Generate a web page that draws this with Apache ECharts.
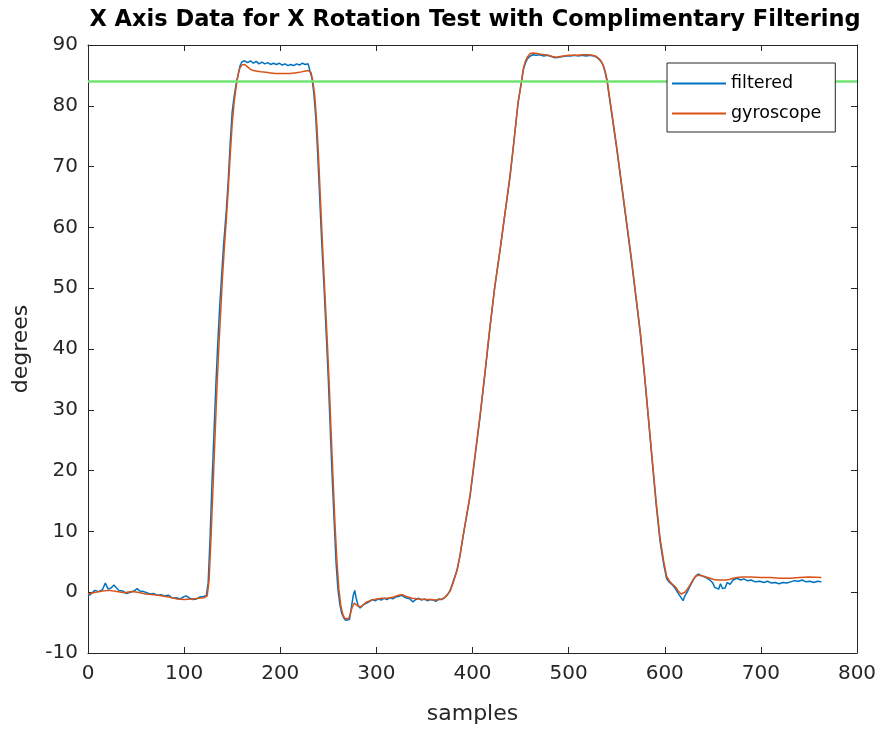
<!DOCTYPE html>
<html>
<head>
<meta charset="utf-8">
<script src="https://cdn.jsdelivr.net/npm/echarts@6/dist/echarts.min.js"></script>
<style>html,body{margin:0;padding:0;background:#fff}#c{width:884px;height:731px}</style>
</head>
<body>
<div id="c"></div>
<script>
var xTicks = [0, 100, 200, 300, 400, 500, 600, 700, 800];
var yTicks = [-10, 0, 10, 20, 30, 40, 50, 60, 70, 80, 90];
var thresholdY = 84;

var filteredX = [0,3,7,11,15,18,21,24,27,29,32,36,40,44,48,51,54,58,61,65,68,72,76,80,84,88,92,96,99,102,106,109,113,116,120,123,
125,127,129,131,133,135,137,139,141,144,146,148,150,152,154,156,158,160,163,
166,169,172,175,178,181,184,187,190,193,196,199,202,205,208,211,214,217,220,223,226,229,231,
233,235,237,239,241,243,245.6,248,250,252,254,256,258,260,262,264,266,268,270,272,274,276,277.5,279,281,283,285,287,290,293,296,299,302,305,308,311,314,317,320,323,326,329,332,335,338,341,344,347,350,353,356,359,362,365,368,371,374,
376.5,380,383.8,387,390,393.5,397.4,402,407.8,413,418,423,428.7,434,439,443,447.4,451,453,455,457,460,463,466,470,474,478,482,486,490,494,498,502,506,510,514,518,522,526,529,532,534,536,538,
540,545,550,555,560,565,570,574.5,579,583,587,591,595,599,602,605,608,611,614,617,619,621,623.3,626,629.6,632,634.8,637,639.8,643,647,650,652,654,656,658,660,662.8,665,668,671,675,679,682,686,690,694,699,703,707,711,715,719,723,727,731,735,739,743,747,751,755,759,763];
var filteredY = [-0.6,-0.3,0.3,0.1,0.4,1.5,0.5,0.7,1.2,1.5,0.3,0.2,-0.2,0.0,0.2,0.6,0.2,0.1,-0.1,-0.3,-0.2,-0.5,-0.4,-0.6,-0.5,-1.0,-0.9,-1.1,-0.8,-0.6,-1.0,-1.2,-1.1,-0.8,-0.7,-0.6,
1.5,9,18,26,34,41,47,52,57,63,68,74,79,81.5,83.5,85,86.5,87.2,87.4,
87.1,87.4,87.0,87.3,86.9,87.2,86.9,87.1,86.8,87.0,86.8,87.0,86.7,86.9,86.6,86.8,86.6,86.9,86.7,87.0,86.8,86.9,86.6,
84.5,82,78,72,65,58,50,42,35,27,19,12,5,0.5,-2,-3.5,-4.2,-4.6,-4.8,-4.5,-2.5,-0.5,0.3,-1.0,-2.2,-2.6,-2.5,-2.0,-1.8,-1.5,-1.2,-1.4,-1.1,-1.3,-1.0,-1.2,-0.9,-1.1,-0.8,-0.7,-0.5,-0.8,-1.0,-1.1,-1.6,-1.2,-1.0,-1.3,-1.1,-1.4,-1.2,-1.3,-1.5,-1.1,-1.2,-0.9,-0.4,
0.2,1.8,3.6,6,9,12.2,15.7,21.5,28.8,36,43.3,50,56.3,62.5,68.3,74,80.5,84,86,87,87.7,88.2,88.4,88.3,88.4,88.2,88.3,88.1,87.9,88.0,88.1,88.2,88.2,88.3,88.2,88.3,88.2,88.3,88.2,88.0,87.6,87.2,86.6,85.5,
84,78.5,73,67,61,55,48.5,42.6,35.5,28.5,21.5,14.5,8.5,4.5,2.2,1.6,1.2,0.6,-0.2,-0.9,-1.4,-0.6,0,0.9,2.0,2.6,3.0,2.8,2.6,2.4,2.0,1.5,0.8,1.1,0.5,1.4,0.6,0.7,1.6,1.3,2.0,2.3,2.0,2.2,1.9,2.0,1.7,1.8,1.6,1.8,1.5,1.6,1.4,1.6,1.5,1.7,1.9,1.8,2.0,1.7,1.8,1.6,1.8,1.7];

var gyroX = [0,8,15,22,30,38,45,52,60,68,76,84,92,100,108,115,121,124,
126,128,130,132,134,136,138,140,142,144,146,148,150,152,154,156,158,160,163,166,169,172,176,180,185,190,195,200,205,210,215,220,225,229,
232,234,236,238,240,242,244,246.5,249,251,253,255,257,259,261,263,265,267,269,271,273,275,277,279,281,284,287,290,295,300,306,312,318,323,327,331,337,344,350,356,362,367,371,374,
377,380,384,387,390,393.5,397.4,402,407.8,413,418,423,428.7,434,439,443,447.4,451,453,455,457,460,463,467,471,475,479,483,487,491,495,500,505,510,515,520,525,529,532,534,536,538,
540,545,550,555,560,565,570,574.5,579,583,587,591,595,599,602,605,608,611,614,617,619,621,624,627,630,633,636,639,643,647,651,655,659,663,667,671,675,680,690,700,710,720,730,740,750,763];
var gyroY = [-0.3,0.0,0.2,0.3,0.1,-0.1,0.1,0.0,-0.3,-0.4,-0.6,-0.8,-1.1,-1.2,-1.1,-1.0,-0.9,-0.6,
2,9,17,25,33,40,46,52,57,61.5,66.5,72,77,80.5,83,85,86.2,86.7,86.8,86.4,86.0,85.8,85.7,85.6,85.5,85.4,85.3,85.3,85.3,85.3,85.4,85.5,85.7,85.8,
85.5,84,81.5,77,71,64,57,49,41,34,26,18.5,11,5,0.5,-2.2,-3.6,-4.3,-4.6,-4.4,-3.5,-2.4,-1.8,-2.0,-2.3,-2.4,-2.0,-1.6,-1.3,-1.1,-1.0,-1.0,-0.8,-0.5,-0.4,-0.7,-1.0,-1.1,-1.2,-1.2,-1.3,-1.2,-0.9,-0.4,
0.3,1.6,3.6,6,9,12.3,15.9,21.7,29,36.2,43.4,50,56.4,62.6,68.4,74,80.5,84,86.2,87.3,88.0,88.6,88.7,88.6,88.5,88.4,88.3,88.1,88.0,88.1,88.2,88.3,88.3,88.3,88.4,88.4,88.3,88.1,87.7,87.3,86.7,85.7,
84.3,78.8,73.3,67.3,61.3,55.3,48.8,42.9,35.8,28.8,21.8,15,9,5,2.6,1.8,1.3,0.9,0.2,-0.3,-0.4,0,0.6,1.4,2.2,2.7,2.8,2.7,2.5,2.3,2.1,2.0,2.0,2.0,2.1,2.3,2.4,2.5,2.5,2.4,2.4,2.3,2.3,2.4,2.5,2.4];

function zip(xs, ys) { return xs.map(function (x, i) { return [x, ys[i]]; }); }

var FONT = 'DejaVu Sans';
var AX = '#262626';

var chart = echarts.init(document.getElementById('c'), null, {renderer: 'canvas'});
var baseX = {
  type: 'value', min: xTicks[0], max: xTicks[xTicks.length - 1], interval: 100,
  axisLine: {show: true, onZero: false, lineStyle: {color: AX, width: 1}},
  axisTick: {show: true, inside: true, length: 6, lineStyle: {color: AX}},
  splitLine: {show: false}
};
var baseY = {
  type: 'value', min: yTicks[0], max: yTicks[yTicks.length - 1], interval: 10,
  axisLine: {show: true, onZero: false, lineStyle: {color: AX, width: 1}},
  axisTick: {show: true, inside: true, length: 6, lineStyle: {color: AX}},
  splitLine: {show: false}
};
var legendIcon = 'path://M0,0 L54,0 L54,2 L0,2 Z';

chart.setOption({
  animation: false,
  backgroundColor: '#ffffff',
  title: {
    text: 'X Axis Data for X Rotation Test with Complimentary Filtering',
    left: 470, top: 4, textAlign: 'center',
    textStyle: {fontFamily: FONT, fontSize: 22.5, fontWeight: 'bold', color: '#000'}
  },
  grid: {left: 88, right: 27, top: 45, bottom: 78, show: false},
  legend: {
    z: 20,
    data: [
      {name: 'filtered', icon: legendIcon, itemStyle: {color: '#0072BD'}},
      {name: 'gyroscope', icon: legendIcon, itemStyle: {color: '#D95319'}}
    ],
    orient: 'vertical', left: 667, top: 63,
    padding: [10, 14, 8, 5], itemGap: 9, itemWidth: 54, itemHeight: 2,
    backgroundColor: '#ffffff', borderColor: AX, borderWidth: 1,
    textStyle: {fontFamily: FONT, fontSize: 17.5, color: '#000', lineHeight: 21}
  },
  xAxis: [
    Object.assign({}, baseX, {
      position: 'bottom',
      name: 'samples', nameLocation: 'middle', nameGap: 50,
      nameTextStyle: {fontFamily: FONT, fontSize: 22, color: AX},
      axisLabel: {fontFamily: FONT, fontSize: 20, color: AX, margin: 11}
    }),
    Object.assign({}, baseX, {position: 'top', axisLabel: {show: false}})
  ],
  yAxis: [
    Object.assign({}, baseY, {
      position: 'left',
      name: 'degrees', nameLocation: 'middle', nameGap: 56,
      nameTextStyle: {fontFamily: FONT, fontSize: 22, color: AX},
      axisLabel: {fontFamily: FONT, fontSize: 20, color: AX, margin: 10}
    }),
    Object.assign({}, baseY, {position: 'right', axisLabel: {show: false}})
  ],
  series: [
    {
      name: 'filtered', type: 'line', data: zip(filteredX, filteredY),
      showSymbol: false, symbol: 'none', color: '#0072BD',
      lineStyle: {width: 1.5, color: '#0072BD'}, z: 2
    },
    {
      name: 'gyroscope', type: 'line', data: zip(gyroX, gyroY),
      showSymbol: false, symbol: 'none', color: '#D95319',
      lineStyle: {width: 1.5, color: '#D95319'}, z: 3
    },
    {
      name: 'threshold', type: 'line', data: [[xTicks[0], thresholdY], [xTicks[xTicks.length - 1], thresholdY]],
      showSymbol: false, symbol: 'none', silent: true, color: '#72e372',
      lineStyle: {width: 2.5, color: '#72e372'}, z: 4
    }
  ]
});
</script>
</body>
</html>
